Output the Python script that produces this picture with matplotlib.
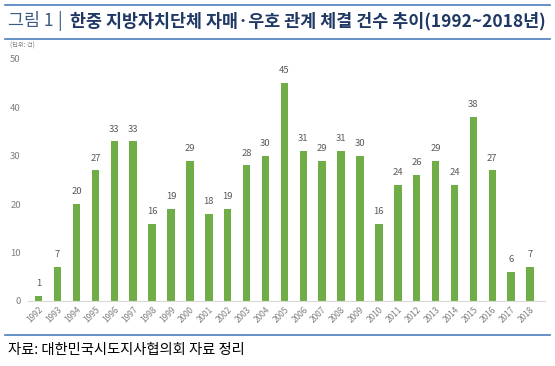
import matplotlib
matplotlib.use("Agg")
import matplotlib.pyplot as plt
from matplotlib.lines import Line2D

plt.rcParams['font.family'] = ['Noto Sans CJK KR', 'DejaVu Sans']

years = [str(y) for y in range(1992, 2019)]
counts = [1, 7, 20, 27, 33, 33, 16, 19, 29, 18, 19, 28, 30, 45, 31, 29, 31, 30,
          16, 24, 26, 29, 24, 38, 27, 6, 7]
yticks = [0, 10, 20, 30, 40, 50]

bar_color = '#70AD47'
line_color = '#4A7EBB'

fig = plt.figure(figsize=(5.55, 3.66), dpi=100)
ax = fig.add_axes([0.05, 0.1776, 0.932, 0.6612])

x = list(range(len(years)))
ax.bar(x, counts, width=0.4, color=bar_color, zorder=2)
for xi, v in zip(x, counts):
    ax.text(xi, v + 1.6, str(v), ha='center', va='bottom', fontsize=6.8, color='#595959')

ax.set_xlim(-0.58, 26.79)
ax.set_ylim(0, 50)
ax.set_yticks(yticks)
ax.set_yticklabels([str(t) for t in yticks], fontsize=6.8, color='#7F7F7F')
ax.set_xticks(x)
ax.set_xticklabels(years, rotation=45, ha='right', rotation_mode='anchor', fontsize=6, color='#7F7F7F')
ax.tick_params(axis='both', length=0, pad=3)
ax.tick_params(axis='y', pad=5)
for s in ['top', 'right', 'left']:
    ax.spines[s].set_visible(False)
ax.spines['bottom'].set_color('#D9D9D9')
ax.spines['bottom'].set_linewidth(0.8)

# Decorative lines
for yy in [1 - 5/366, 1 - 39/366, 1 - 335/366]:
    fig.add_artist(Line2D([0.009, 0.991], [yy, yy], color=line_color, lw=1.2, transform=fig.transFigure))

fig.text(0.014, 1 - 21/366, '그림 1', fontsize=12.5, color='#3C5A82', va='center', ha='left')
fig.text(0.103, 1 - 21/366, '|', fontsize=12.5, color='#3C5A82', va='center', ha='left')
fig.text(0.126, 1 - 21/366, '한중 지방자치단체 자매·우호 관계 체결 건수 추이(1992~2018년)',
         fontsize=12.5, color='#1F3864', va='center', ha='left', fontweight='bold')
fig.text(0.018, 1 - 46/366, '(단위: 건)', fontsize=4.5, color='#7F7F7F', va='center', ha='left')
fig.text(0.014, 1 - 350/366, '자료: 대한민국시도지사협의회 자료 정리', fontsize=10.3, color='#000000',
         va='center', ha='left')

fig.savefig('out.png', dpi=100)
